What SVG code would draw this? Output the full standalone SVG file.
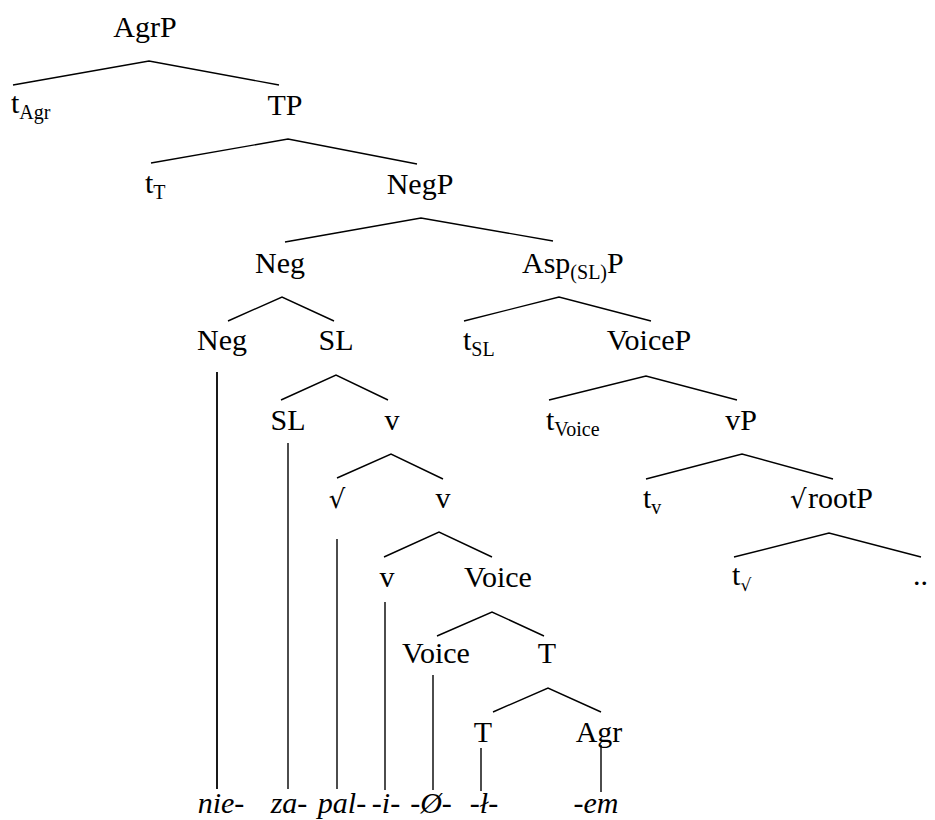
<svg xmlns="http://www.w3.org/2000/svg" width="935" height="820" viewBox="0 0 935 820">
<rect width="935" height="820" fill="#fff"/>
<g id="edges" stroke="#000" stroke-width="1.4" fill="none">
<polyline points="13,85 149,61 279,85"/>
<polyline points="151,163 288,139 417,164"/>
<polyline points="285,242 421,218 553,241"/>
<polyline points="228,321 282,297 334,321"/>
<polyline points="464,321 559,297 651,321"/>
<polyline points="281,400 336,375 388,400"/>
<polyline points="549,400 646,376 737,400"/>
<polyline points="337,478 391,454 443,479"/>
<polyline points="646,479 742,454 833,479"/>
<polyline points="384,557 439,532 492,557"/>
<polyline points="734,557 829,533 921,557"/>
<polyline points="437,636 492,612 544,636"/>
<polyline points="493,712 548,688 601,712"/>
<line x1="217" y1="372" x2="217" y2="789" stroke-width="1.8"/>
<line x1="288" y1="443" x2="288" y2="789"/>
<line x1="337" y1="539" x2="337" y2="789"/>
<line x1="385" y1="602" x2="385" y2="790"/>
<line x1="433" y1="675" x2="433" y2="790"/>
<line x1="481" y1="748" x2="481" y2="791"/>
<line x1="601" y1="745" x2="601" y2="792"/>
</g>
<g id="labels" font-family="Times New Roman, Liberation Serif, serif" font-size="30" fill="#000">
<g id="n-agrp"><text text-anchor="middle" x="145" y="37">AgrP</text></g>
<g id="n-tagr"><text x="11" y="113">t<tspan font-size="20" dy="6">Agr</tspan></text></g>
<g id="n-tp"><text text-anchor="middle" x="285" y="115">TP</text></g>
<g id="n-tt"><text x="145" y="193">t<tspan font-size="20" dy="6">T</tspan></text></g>
<g id="n-negp"><text text-anchor="middle" x="420" y="194">NegP</text></g>
<g id="n-neg1"><text text-anchor="middle" x="280" y="273">Neg</text></g>
<g id="n-asp"><text x="522" y="273">Asp<tspan font-size="20" dy="6">(SL)</tspan><tspan dy="-6">P</tspan></text></g>
<g id="n-neg2"><text text-anchor="middle" x="222" y="350">Neg</text></g>
<g id="n-sl1"><text text-anchor="middle" x="336" y="350">SL</text></g>
<g id="n-tsl"><text x="463" y="350">t<tspan font-size="20" dy="6">SL</tspan></text></g>
<g id="n-voicep"><text text-anchor="middle" x="649" y="350">VoiceP</text></g>
<g id="n-sl2"><text text-anchor="middle" x="288" y="430">SL</text></g>
<g id="n-v1"><text text-anchor="middle" x="392" y="430">v</text></g>
<g id="n-tvoice"><text x="546" y="430">t<tspan font-size="20" dy="6">Voice</tspan></text></g>
<g id="n-vp"><text text-anchor="middle" x="741" y="430">vP</text></g>
<g id="n-root"><text font-family="DejaVu Serif, serif" font-size="26" text-anchor="middle" x="337" y="508">√</text></g>
<g id="n-v2"><text text-anchor="middle" x="443" y="508">v</text></g>
<g id="n-tv"><text x="643" y="508">t<tspan font-size="20" dy="6">v</tspan></text></g>
<g id="n-rootp"><text font-family="DejaVu Serif, serif" font-size="26" x="790" y="508">√</text><text x="808" y="508">rootP</text></g>
<g id="n-v3"><text text-anchor="middle" x="387" y="587">v</text></g>
<g id="n-voice1"><text text-anchor="middle" x="498" y="587">Voice</text></g>
<g id="n-troot"><text x="732" y="585">t</text><text font-family="DejaVu Serif, serif" font-size="17" x="740.5" y="591">√</text></g>
<g id="n-dots"><text x="913" y="585">..</text></g>
<g id="n-voice2"><text text-anchor="middle" x="436" y="663">Voice</text></g>
<g id="n-t1"><text text-anchor="middle" x="547" y="663">T</text></g>
<g id="n-t2"><text text-anchor="middle" x="483" y="742">T</text></g>
<g id="n-agr"><text text-anchor="middle" x="599" y="742">Agr</text></g>
<g id="words" font-style="italic" text-anchor="middle">
<text x="221" y="813">nie-</text>
<text x="289" y="813">za-</text>
<text x="342" y="813">pal-</text>
<text x="386" y="813">-i-</text>
<text x="431" y="813">-Ø-</text>
<text x="484" y="813">-ł-</text>
<text x="596" y="813">-em</text>
</g>
</g>
</svg>
